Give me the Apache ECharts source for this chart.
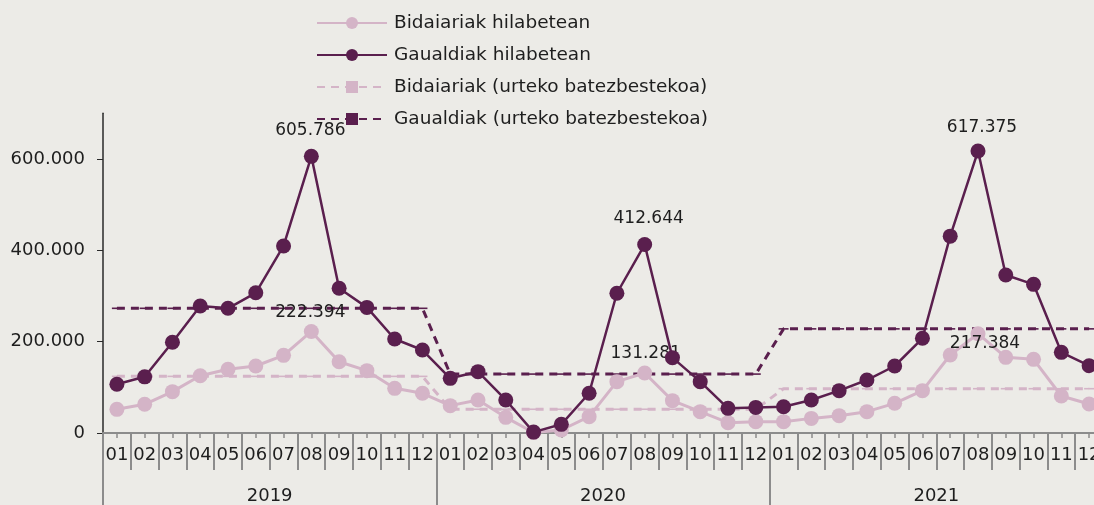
<!DOCTYPE html>
<html>
<head>
<meta charset="utf-8">
<script src="https://cdn.jsdelivr.net/npm/echarts@6/dist/echarts.min.js"></script>
<style>
  html, body { margin: 0; padding: 0; background: #ecebe7; overflow: hidden; }
  #chart { width: 1094px; height: 505px; }
</style>
</head>
<body>
<div id="chart"></div>
<script>
// Monthly categories, grouped by year
const years = ['2019', '2020', '2021'];
const monthLabels = ['01', '02', '03', '04', '05', '06', '07', '08', '09', '10', '11', '12'];
const categories = years.flatMap(() => monthLabels);

// Travellers per month
const bidaiariak = [
  51800, 62800, 90500, 125500, 139400, 146700, 170000, 222394, 156000, 136500, 97800, 86900,
  59900, 72300, 34300, 1000, 6600, 35800, 112400, 131281, 70800, 46700, 22600, 24800,
  24800, 32000, 38000, 46700, 65000, 92700, 170800, 217384, 165700, 161300, 81000, 63500
];
// Overnight stays per month
const gaualdiak = [
  106600, 123000, 198600, 278000, 273000, 307000, 409500, 605786, 316800, 275000, 205800, 181700,
  119700, 134300, 72300, 2000, 19000, 87000, 306000, 412644, 165000, 112400, 54000, 56000,
  57600, 72300, 92700, 116000, 146700, 207400, 431000, 617375, 346000, 325500, 176600, 147400
];
// Yearly averages, repeated for each month of the year
const bidaiariakAvg = [
  124000, 124000, 124000, 124000, 124000, 124000, 124000, 124000, 124000, 124000, 124000, 124000,
  52000, 52000, 52000, 52000, 52000, 52000, 52000, 52000, 52000, 52000, 52000, 52000,
  97000, 97000, 97000, 97000, 97000, 97000, 97000, 97000, 97000, 97000, 97000, 97000
];
const gaualdiakAvg = [
  273000, 273000, 273000, 273000, 273000, 273000, 273000, 273000, 273000, 273000, 273000, 273000,
  129000, 129000, 129000, 129000, 129000, 129000, 129000, 129000, 129000, 129000, 129000, 129000,
  228000, 228000, 228000, 228000, 228000, 228000, 228000, 228000, 228000, 228000, 228000, 228000
];
const yTicks = [0, 200000, 400000, 600000];

const names = [
  'Bidaiariak hilabetean',
  'Gaualdiak hilabetean',
  'Bidaiariak (urteko batezbestekoa)',
  'Gaualdiak (urteko batezbestekoa)'
];

const DARK = '#5a1f4e';
const LIGHT = '#d4b4c7';
const GREY = '#8c8c8c';
const TEXT = '#1e1e1e';
const FONT = 'DejaVu Sans';
// flat dash-shaped marker for the average lines
const DASH_MARK = 'path://M0 0H10V4H0Z';

const fmt = v => Math.round(v).toString().replace(/\B(?=(\d{3})+(?!\d))/g, '.');

// Peak annotations: which point of which series, and where its text sits
const peakLabels = {
  bidaiariak: { 7: [-1, -19], 19: [1, -19], 31: [7, 10] },
  gaualdiak: { 7: [-1, -26], 19: [4, -26], 31: [4, -23] }
};

function withLabels(values, key) {
  return values.map((v, i) => {
    const off = peakLabels[key][i];
    if (!off) return v;
    return {
      value: v,
      label: {
        show: true,
        position: 'inside',
        offset: off,
        formatter: p => fmt(p.value),
        color: TEXT,
        fontFamily: FONT,
        fontSize: 17
      }
    };
  });
}

const chart = echarts.init(document.getElementById('chart'), null, { renderer: 'canvas' });

const baseX = {
  type: 'category',
  gridIndex: 0,
  position: 'bottom',
  boundaryGap: true
};

chart.setOption({
  backgroundColor: '#ecebe7',
  animation: false,
  textStyle: { fontFamily: FONT },
  legend: {
    orient: 'vertical',
    left: 311,
    top: 8,
    itemWidth: 70,
    itemHeight: 15,
    itemGap: 12,
    data: names,
    textStyle: { color: TEXT, fontSize: 18.5, fontFamily: FONT, lineHeight: 20, padding: [0, 0, 0, 2] }
  },
  // the last year runs a little past the right edge
  grid: {
    left: 103, top: 113.3, width: 1000, height: 319.7,
    containLabel: false, outerBoundsMode: 'none'
  },
  xAxis: [
    Object.assign({}, baseX, {
      data: categories,
      axisLine: { show: true, lineStyle: { color: GREY, width: 2 } },
      axisTick: { show: true, interval: 0, length: 37, lineStyle: { color: GREY, width: 2 } },
      axisLabel: { interval: 0, margin: 13, color: TEXT, fontSize: 18, fontFamily: FONT }
    }),
    Object.assign({}, baseX, {
      data: categories,
      axisLine: { show: false },
      axisTick: { show: true, interval: 0, alignWithLabel: true, length: 5, lineStyle: { color: GREY, width: 1.5 } },
      axisLabel: { show: false }
    }),
    Object.assign({}, baseX, {
      data: years,
      axisLine: { show: false },
      axisTick: { show: true, interval: 0, length: 72, lineStyle: { color: GREY, width: 2 } },
      axisLabel: { interval: 0, margin: 54, color: TEXT, fontSize: 18, fontFamily: FONT }
    })
  ],
  yAxis: {
    type: 'value',
    min: 0,
    max: 700000,
    interval: 200000,
    splitLine: { show: false },
    axisLine: { show: true, lineStyle: { color: '#2a2a2a', width: 1.5 } },
    axisTick: { show: true, length: 6, customValues: yTicks, lineStyle: { color: '#2a2a2a' } },
    axisLabel: {
      customValues: yTicks,
      margin: 18,
      color: TEXT,
      fontSize: 18,
      fontFamily: FONT,
      formatter: v => fmt(v)
    }
  },
  series: [
    {
      name: names[2],
      type: 'line',
      xAxisIndex: 0,
      data: bidaiariakAvg,
      symbol: DASH_MARK,
      symbolSize: [10, 4],
      symbolKeepAspect: true,
      itemStyle: { color: LIGHT },
      lineStyle: { color: LIGHT, width: 3, type: [8, 6] },
      z: 2
    },
    {
      name: names[3],
      type: 'line',
      xAxisIndex: 0,
      data: gaualdiakAvg,
      symbol: DASH_MARK,
      symbolSize: [10, 4],
      symbolKeepAspect: true,
      itemStyle: { color: DARK },
      lineStyle: { color: DARK, width: 3, type: [8, 6] },
      z: 3
    },
    {
      name: names[0],
      type: 'line',
      xAxisIndex: 0,
      data: withLabels(bidaiariak, 'bidaiariak'),
      symbol: 'circle',
      symbolSize: 15,
      itemStyle: { color: LIGHT },
      lineStyle: { color: LIGHT, width: 3 },
      z: 4
    },
    {
      name: names[1],
      type: 'line',
      xAxisIndex: 0,
      data: withLabels(gaualdiak, 'gaualdiak'),
      symbol: 'circle',
      symbolSize: 15,
      itemStyle: { color: DARK },
      lineStyle: { color: DARK, width: 2.5 },
      z: 5
    }
  ]
});
</script>
</body>
</html>
